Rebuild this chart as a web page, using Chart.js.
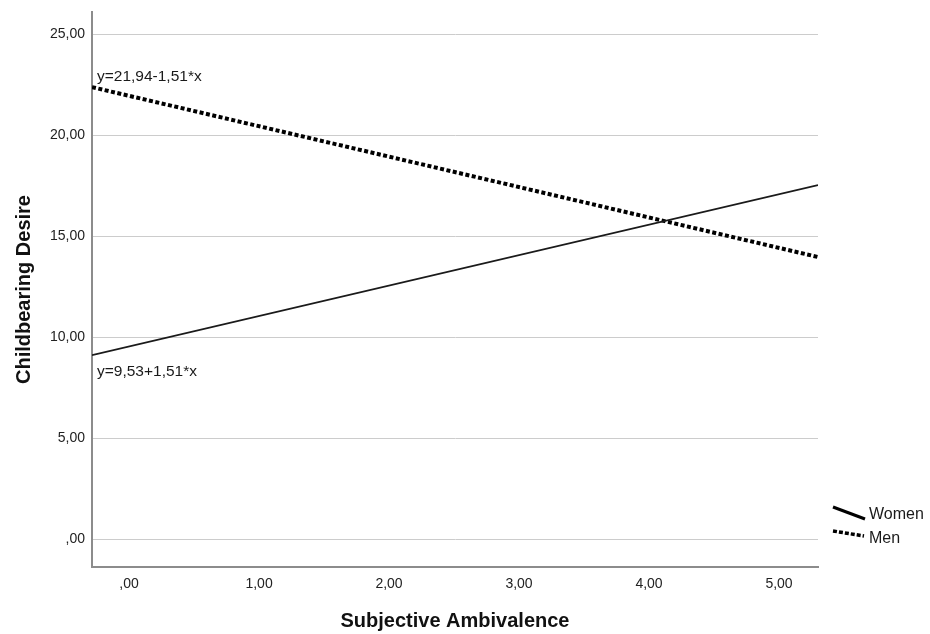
<!DOCTYPE html>
<html>
<head>
<meta charset="utf-8">
<script src="https://cdn.jsdelivr.net/npm/chart.js@4/dist/chart.umd.min.js"></script>
<style>
  html, body { margin: 0; padding: 0; background: #ffffff; }
  #wrap { width: 930px; height: 634px; }
</style>
</head>
<body>
<div id="wrap"><canvas id="c" width="930" height="634"></canvas></div>
<script>
// ---- data ----
const xRange = [-0.285, 5.30];            // x extent of both fit lines
const womenValues = [9.10, 17.52];        // Women fit line, y at xRange ends
const menValues = [22.37, 13.96];         // Men fit line, y at xRange ends
const seriesNames = ['Women', 'Men'];
const equations = ['y=9,53+1,51*x', 'y=21,94-1,51*x'];
const xTickLabels = [',00', '1,00', '2,00', '3,00', '4,00', '5,00'];
const yTickLabels = [',00', '5,00', '10,00', '15,00', '20,00', '25,00'];
const xTitle = 'Subjective Ambivalence';
const yTitle = 'Childbearing Desire';
const yRange = [-1.386, 26.09];

const FONT = "'Liberation Sans', Arial, sans-serif";

const toPts = vals => vals.map((v, i) => ({ x: xRange[i], y: v }));

const annotationPlugin = {
  id: 'annot',
  afterDatasetsDraw(chart) {
    const { ctx, chartArea, scales } = chart;
    ctx.save();
    ctx.fillStyle = '#1a1a1a';
    ctx.font = '15.5px ' + FONT;
    ctx.textAlign = 'left';
    ctx.textBaseline = 'alphabetic';
    const yMen = scales.y.getPixelForValue(menValues[0]);
    const yWomen = scales.y.getPixelForValue(womenValues[0]);
    ctx.fillText(equations[1], chartArea.left + 5, yMen - 6);
    ctx.fillText(equations[0], chartArea.left + 5, yWomen + 21);

    // legend
    const lx = chartArea.right + 15;
    ctx.strokeStyle = '#000';
    ctx.lineCap = 'butt';
    ctx.lineWidth = 3;
    ctx.setLineDash([]);
    ctx.beginPath();
    ctx.moveTo(lx, 507);
    ctx.lineTo(lx + 32, 519);
    ctx.stroke();
    ctx.lineWidth = 3.5;
    ctx.setLineDash([4, 2]);
    ctx.beginPath();
    ctx.moveTo(lx, 531);
    ctx.lineTo(lx + 31, 536);
    ctx.stroke();
    ctx.setLineDash([]);
    ctx.font = '16px ' + FONT;
    ctx.textBaseline = 'middle';
    ctx.fillText(seriesNames[0], lx + 36, 515);
    ctx.fillText(seriesNames[1], lx + 36, 539);
    ctx.restore();
  }
};

new Chart(document.getElementById('c'), {
  type: 'scatter',
  data: {
    datasets: [
      {
        label: seriesNames[0],
        data: toPts(womenValues),
        showLine: true,
        borderColor: '#1a1a1a',
        borderWidth: 1.8,
        pointRadius: 0,
        fill: false
      },
      {
        label: seriesNames[1],
        data: toPts(menValues),
        showLine: true,
        borderColor: '#000000',
        borderWidth: 4,
        borderDash: [4, 2.5],
        borderCapStyle: 'butt',
        pointRadius: 0,
        fill: false
      }
    ]
  },
  options: {
    responsive: false,
    animation: false,
    devicePixelRatio: 1,
    layout: { padding: { top: 12, right: 112, left: 0, bottom: 0 } },
    plugins: { legend: { display: false }, tooltip: { enabled: false } },
    scales: {
      x: {
        type: 'linear',
        min: xRange[0],
        max: xRange[1],
        afterFit(s) { s.height = 67; s.paddingLeft = 0; s.paddingRight = 0; },
        ticks: {
          stepSize: 1,
          includeBounds: false,
          padding: 9,
          color: '#222',
          font: { family: FONT, size: 14 },
          callback: v => {
            const i = Math.round(v);
            return Math.abs(v - i) < 1e-6 ? xTickLabels[i] : '';
          }
        },
        grid: { display: true, color: 'rgba(0,0,0,0)', drawTicks: false },
        border: { display: true, color: '#8c8c8c', width: 2 },
        title: {
          display: true,
          text: xTitle,
          color: '#111',
          font: { family: FONT, size: 20, weight: 'bold' },
          padding: { top: 0, bottom: 1 }
        }
      },
      y: {
        type: 'linear',
        min: yRange[0],
        max: yRange[1],
        afterFit(s) { s.width = 92; s.paddingTop = 0; s.paddingBottom = 0; },
        ticks: {
          stepSize: 5,
          includeBounds: false,
          padding: 7,
          color: '#222',
          font: { family: FONT, size: 14 },
          callback: v => {
            const i = Math.round(v / 5);
            return Math.abs(v - i * 5) < 1e-6 ? yTickLabels[i] : '';
          }
        },
        grid: { color: '#cccccc', lineWidth: 1, drawTicks: false },
        border: { display: true, color: '#8c8c8c', width: 2 },
        title: {
          display: true,
          text: yTitle,
          color: '#111',
          font: { family: FONT, size: 20, weight: 'bold' },
          padding: { top: 12, bottom: 0 }
        }
      }
    }
  },
  plugins: [annotationPlugin]
});
</script>
</body>
</html>
